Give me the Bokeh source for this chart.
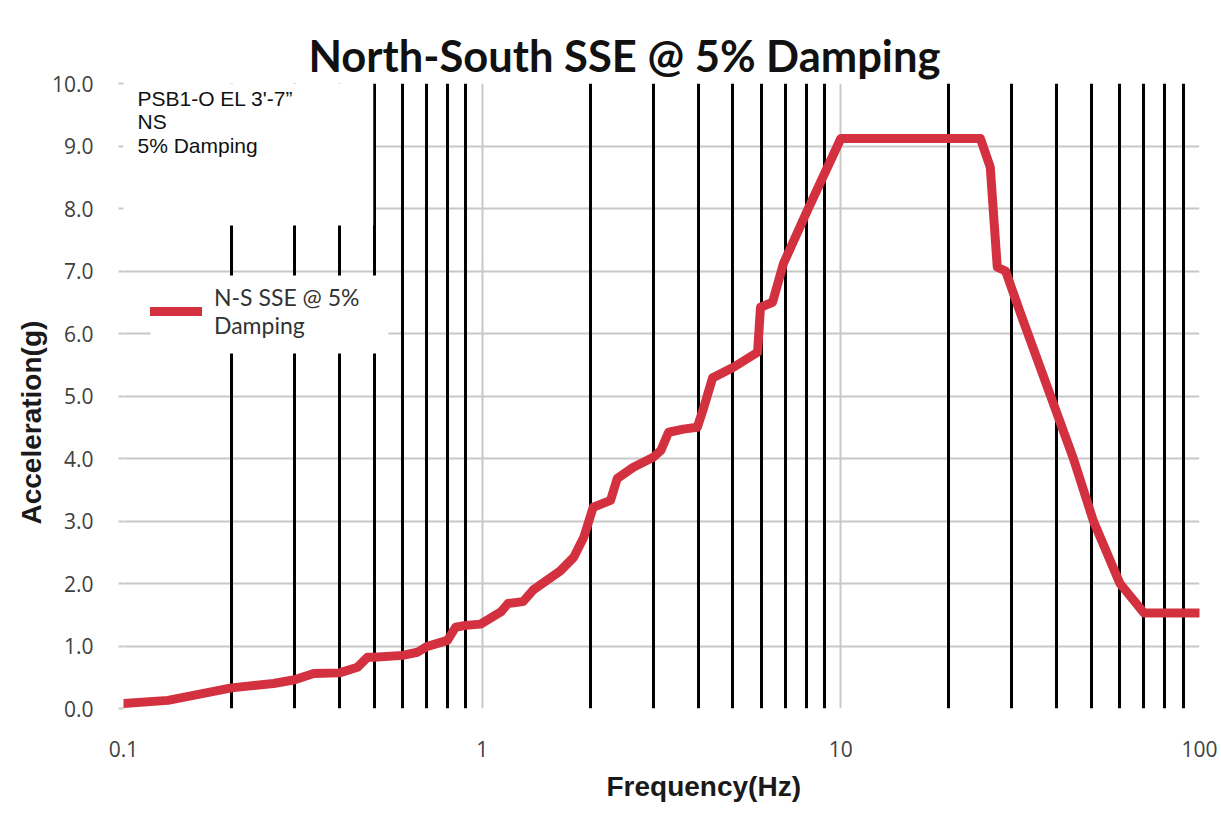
from bokeh.plotting import figure
from bokeh.models import (FixedTicker, Range1d, BoxAnnotation, Label, Legend, Title,
                          LegendItem, PrintfTickFormatter, CustomJSTickFormatter, Grid)
from bokeh.embed import file_html
from bokeh.resources import INLINE

# Response spectrum, N-S direction, 5% damping
freq_hz = [0.10, 0.133, 0.20, 0.262, 0.30, 0.339, 0.40, 0.449, 0.479, 0.50,
           0.60, 0.66, 0.70, 0.80, 0.843, 0.90, 0.99, 1.13, 1.18, 1.30,
           1.39, 1.65, 1.80, 1.92, 2.04, 2.28, 2.38, 2.64, 3.00, 3.15,
           3.31, 3.64, 3.98, 4.15, 4.39, 5.02, 5.86, 5.97, 6.45, 6.92,
           8.07, 10.0, 24.5, 26.1, 27.3, 28.8, 31.7, 44.5, 50.6, 60.0,
           70.0, 100.0]
accel_g = [0.08, 0.13, 0.33, 0.40, 0.46, 0.56, 0.57, 0.66, 0.82, 0.82,
           0.85, 0.90, 0.99, 1.09, 1.30, 1.33, 1.35, 1.55, 1.68, 1.71,
           1.90, 2.20, 2.42, 2.74, 3.22, 3.33, 3.68, 3.86, 4.02, 4.13,
           4.42, 4.47, 4.50, 4.82, 5.29, 5.46, 5.70, 6.42, 6.50, 7.12,
           7.97, 9.12, 9.12, 8.66, 7.06, 7.00, 6.32, 4.00, 3.00, 2.00,
           1.53, 1.53]

x_major_ticks = [0.1, 1, 10, 100]
x_minor_ticks = [0.2, 0.3, 0.4, 0.5, 0.6, 0.7, 0.8, 0.9,
                 2, 3, 4, 5, 6, 7, 8, 9,
                 20, 30, 40, 50, 60, 70, 80, 90]
y_ticks = [0, 1, 2, 3, 4, 5, 6, 7, 8, 9, 10]

title_text = "North-South SSE @ 5% Damping"
x_title = "Frequency(Hz)"
y_title = "Acceleration(g)"
note_text = "PSB1-O EL 3'-7\u201d\nNS\n5% Damping"
series_label = "N-S SSE @ 5%\nDamping"

p = figure(width=1221, height=818, x_axis_type="log",
           x_range=Range1d(0.1, 100), y_range=Range1d(0, 10),
           output_backend="svg", toolbar_location=None,
           min_border_left=123, min_border_right=22,
           min_border_top=83, min_border_bottom=110,
           background_fill_color="white", border_fill_color="white")
p.outline_line_color = None

# chart title
p.title.text = title_text
p.title.text_font = "Lato"
p.title.text_font_size = "43.5px"
p.title.text_font_style = "bold"
p.title.text_color = "#111111"
p.title.align = "left"
p.title.offset = 185
p.title.standoff = 5

# axes
p.xaxis.ticker = FixedTicker(ticks=x_major_ticks, minor_ticks=[])
p.xaxis.formatter = CustomJSTickFormatter(code="return tick.toString();")
p.yaxis.ticker = FixedTicker(ticks=y_ticks, minor_ticks=[])
p.yaxis.formatter = PrintfTickFormatter(format="%.1f")
for ax in (p.xaxis[0], p.yaxis[0]):
    ax.axis_line_color = None
    ax.minor_tick_line_color = None
    ax.major_label_text_font = "Open Sans"
    ax.major_label_text_font_size = "21px"
    ax.major_label_text_color = "#404040"
p.xaxis.major_tick_line_color = None
p.xaxis.major_label_standoff = 26
p.yaxis.major_tick_line_color = "#c8c8c8"
p.yaxis.major_tick_line_width = 2
p.yaxis.major_tick_out = 5
p.yaxis.major_tick_in = 0
p.yaxis.major_label_standoff = 25

# axis titles, set beside the axes with a shift along them
axis_title_style = dict(text_font="Liberation Sans", text_font_style="bold",
                        text_font_size="28px", text_color="#1a1a1a", align="left")
p.add_layout(Title(text=x_title, offset=483, standoff=18, **axis_title_style), "below")
p.add_layout(Title(text=y_title, offset=184, standoff=4, **axis_title_style), "left")

# gray major grid, black minor decade lines
p.xgrid.ticker = FixedTicker(ticks=x_major_ticks, minor_ticks=[])
p.ygrid.ticker = FixedTicker(ticks=y_ticks, minor_ticks=[])
for g in (p.xgrid[0], p.ygrid[0]):
    g.grid_line_color = "#c8c8c8"
    g.grid_line_width = 2
p.add_layout(Grid(dimension=0, ticker=FixedTicker(ticks=x_minor_ticks, minor_ticks=[]),
                  grid_line_color="black", grid_line_width=3))

# note box in the upper-left corner
p.add_layout(BoxAnnotation(left=0.0985, right=0.497, bottom=7.73, top=10.05,
                           fill_color="white", fill_alpha=1.0, line_color=None))
p.add_layout(Label(x=0.1094, y=9.95, text=note_text, text_baseline="top",
                   text_font="Liberation Sans", text_font_size="21px",
                   text_line_height=1.02, text_color="#111111"))

# spectrum curve
curve = p.line(freq_hz, accel_g, line_color="#d3313f", line_width=9,
               line_join="round", line_cap="round")

# legend, on a white patch that interrupts the grid
p.add_layout(BoxAnnotation(left=0.1189, right=0.548, bottom=5.68, top=6.93,
                           fill_color="white", fill_alpha=1.0, line_color=None))
legend = Legend(items=[LegendItem(label=series_label, renderers=[curve])],
                location=(27, 369), padding=10, spacing=0, margin=0,
                glyph_width=52, glyph_height=26, label_standoff=12,
                label_text_font="Lato", label_text_font_size="23px",
                label_text_color="#333333",
                background_fill_color="white", background_fill_alpha=0.0,
                border_line_color=None)
p.add_layout(legend)

open("out.html", "w").write(file_html(p, INLINE))
